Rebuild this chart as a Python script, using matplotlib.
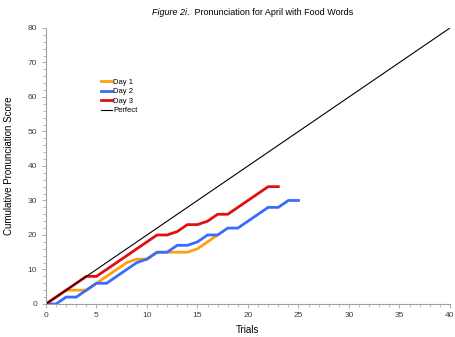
import matplotlib.pyplot as plt
import numpy as np

plt.rcParams['font.family'] = ['Liberation Sans', 'DejaVu Sans']

# Cumulative pronunciation scores per trial
day1_trials = [0, 1, 2, 3, 4, 5, 6, 7, 8, 9, 10, 11, 12, 13, 14, 15, 16, 17]
day1_scores = [0, 2, 4, 4, 4, 6, 8, 10, 12, 13, 13, 15, 15, 15, 15, 16, 18, 20]

day2_trials = list(range(26))
day2_scores = [0, 0, 2, 2, 4, 6, 6, 8, 10, 12, 13, 15, 15, 17, 17, 18, 20, 20,
               22, 22, 24, 26, 28, 28, 30, 30]

day3_trials = list(range(24))
day3_scores = [0, 2, 4, 6, 8, 8, 10, 12, 14, 16, 18, 20, 20, 21, 23, 23, 24, 26,
               26, 28, 30, 32, 34, 34]

perfect_trials = [0, 40]
perfect_scores = [0, 80]

fig = plt.figure(figsize=(4.55, 3.37), dpi=100)
ax = fig.add_axes([0.101, 0.098, 0.888, 0.819])

ax.plot(day1_trials, day1_scores, color='#FFA010', lw=2.0, label='Day 1',
        solid_joinstyle='miter')
ax.plot(day2_trials, day2_scores, color='#3A6BFF', lw=2.0, label='Day 2',
        solid_joinstyle='miter')
ax.plot(day3_trials, day3_scores, color='#E01010', lw=2.0, label='Day 3',
        solid_joinstyle='miter')
ax.plot(perfect_trials, perfect_scores, color='black', lw=0.8, label='Perfect')

ax.set_xlim(0, 40)
ax.set_ylim(0, 80)
ax.set_xticks(np.arange(0, 41, 5))
ax.set_xticks(np.arange(0, 41, 1), minor=True)
ax.set_yticks(np.arange(0, 81, 10))
ax.set_yticks(np.arange(0, 81, 2), minor=True)

for side in ['top', 'right']:
    ax.spines[side].set_visible(False)
for side in ['left', 'bottom']:
    ax.spines[side].set_color('#A0A0A0')
    ax.spines[side].set_linewidth(0.8)
ax.tick_params(which='both', direction='out', colors='#A0A0A0', labelcolor='#404040',
               labelsize=6)
ax.tick_params(which='major', length=3, width=0.6)
ax.tick_params(which='minor', length=2, width=0.5)
ax.tick_params(axis='x', pad=3)

ax.set_xlabel('Trials', fontsize=7, labelpad=4)
ax.set_ylabel('Cumulative Pronunciation Score', fontsize=7, labelpad=10)

# Title: italic figure number followed by regular text
t1 = fig.text(0.334, 0.962, 'Figure 2i', fontsize=6.5, style='italic',
              ha='left', va='center')
ax.annotate('.  Pronunciation for April with Food Words', xy=(1, 0.5),
            xycoords=t1, fontsize=6.5, ha='left', va='center')

ax.legend(loc='upper left', bbox_to_anchor=(0.136, 0.818), frameon=False,
          fontsize=5.5, handlelength=1.4, handletextpad=0.2, labelspacing=0.3,
          borderaxespad=0, borderpad=0)

fig.savefig('out.png', dpi=100)
